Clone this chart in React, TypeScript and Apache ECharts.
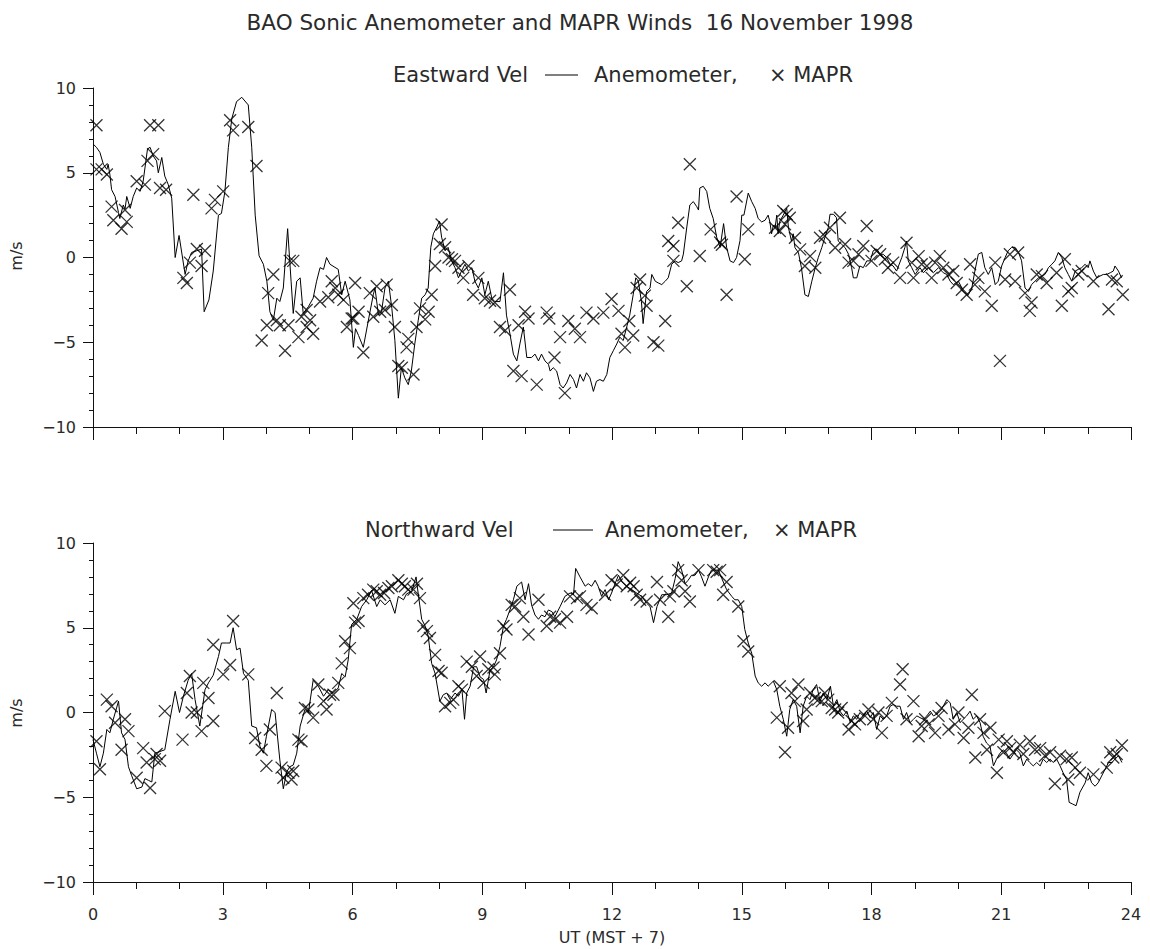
import React, { useEffect, useRef } from "react";
import * as echarts from "echarts";

// ---- Data (hours UT, m/s) ----
const eastLineHours = [
  0.0, 0.08, 0.16, 0.24, 0.32, 0.35, 0.39, 0.43, 0.51, 0.59, 0.62, 0.7, 0.74, 0.78, 0.86, 0.93, 1.01, 1.09, 1.16, 1.26,
  1.32, 1.39, 1.47, 1.51, 1.59, 1.66, 1.74, 1.82, 1.9, 1.99, 2.13, 2.2, 2.28, 2.4, 2.51, 2.57, 2.68, 2.78, 2.9, 2.97,
  3.05, 3.13, 3.21, 3.32, 3.44, 3.59, 3.67, 3.75, 3.84, 3.94, 4.02, 4.09, 4.17, 4.25, 4.32, 4.4, 4.5, 4.58, 4.63, 4.71,
  4.79, 4.86, 4.98, 5.09, 5.17, 5.25, 5.33, 5.4, 5.48, 5.67, 5.75, 5.83, 5.94, 6.02, 6.07, 6.14, 6.25, 6.36, 6.48, 6.52,
  6.6, 6.67, 6.75, 6.83, 6.91, 6.98, 7.06, 7.13, 7.21, 7.29, 7.36, 7.44, 7.52, 7.6, 7.68, 7.75, 7.81, 7.87, 7.95, 8.01,
  8.06, 8.14, 8.21, 8.29, 8.37, 8.45, 8.52, 8.6, 8.68, 8.76, 8.83, 8.91, 8.99, 9.06, 9.14, 9.22, 9.29, 9.41, 9.49, 9.56,
  9.64, 9.72, 9.8, 9.87, 9.95, 10.03, 10.14, 10.22, 10.3, 10.37, 10.45, 10.53, 10.57, 10.64, 10.72, 10.8, 10.87, 10.95, 11.03, 11.11,
  11.18, 11.26, 11.34, 11.41, 11.49, 11.57, 11.64, 11.72, 11.8, 11.88, 11.95, 12.03, 12.11, 12.18, 12.26, 12.34, 12.41, 12.49, 12.55, 12.61,
  12.68, 12.72, 12.8, 12.88, 12.92, 13.0, 13.07, 13.15, 13.23, 13.3, 13.38, 13.46, 13.53, 13.61, 13.65, 13.73, 13.8, 13.88, 13.96, 14.0,
  14.03, 14.11, 14.19, 14.26, 14.34, 14.42, 14.5, 14.58, 14.65, 14.73, 14.81, 14.88, 14.96, 15.0, 15.05, 15.15, 15.23, 15.31, 15.38, 15.46,
  15.54, 15.61, 15.65, 15.69, 15.73, 15.77, 15.81, 15.84, 15.88, 15.96, 16.04, 16.08, 16.15, 16.19, 16.23, 16.31, 16.38, 16.46, 16.54, 16.62,
  16.7, 16.77, 16.85, 16.92, 17.0, 17.04, 17.12, 17.19, 17.23, 17.31, 17.39, 17.47, 17.54, 17.58, 17.66, 17.73, 17.81, 17.89, 17.97, 18.04,
  18.12, 18.2, 18.27, 18.35, 18.43, 18.5, 18.58, 18.7, 18.77, 18.81, 18.85, 18.93, 19.01, 19.12, 19.2, 19.31, 19.43, 19.55, 19.66, 19.74,
  19.82, 19.89, 20.01, 20.09, 20.16, 20.24, 20.32, 20.39, 20.47, 20.55, 20.62, 20.7, 20.78, 20.86, 20.93, 21.01, 21.09, 21.16, 21.24, 21.32,
  21.4, 21.47, 21.55, 21.63, 21.7, 21.78, 21.86, 21.94, 22.01, 22.09, 22.17, 22.24, 22.32, 22.4, 22.47, 22.55, 22.63, 22.71, 22.78, 22.86,
  22.94, 23.01, 23.05, 23.13, 23.21, 23.28, 23.36, 23.44, 23.52, 23.59, 23.63, 23.71, 23.78,
];
const eastLineValues = [
  6.7, 6.5, 6.2, 5.5, 5.2, 5.5, 4.9, 4.0, 3.6, 2.65, 2.3, 3.1, 2.85, 3.6, 2.9, 3.6, 4.1, 3.9, 4.5, 6.4,
  6.5, 6.0, 5.7, 5.0, 5.9, 4.8, 4.3, 3.5, 0.0, 1.3, -1.0, -0.2, 0.3, 0.4, 0.5, -3.2, -2.5, -0.8, 2.5, 2.6,
  3.9, 6.5, 8.2, 9.2, 9.45, 9.0, 6.5, 2.5, 0.1, -0.4, -1.4, -3.2, -3.7, -2.4, -2.6, -1.8, 1.7, -1.4, -3.3, -1.4,
  -1.2, -3.3, -2.9, -2.4, -1.4, -0.6, -0.7, 0.0, -0.4, -0.7, -2.2, -1.4, -2.5, -5.3, -4.2, -4.6, -5.3, -3.8, -2.2, -1.8,
  -3.4, -3.2, -1.8, -1.4, -3.0, -4.9, -8.3, -6.5, -7.1, -7.5, -6.7, -5.1, -3.7, -2.4, -2.2, -1.8, 0.6, 1.4, 1.8, 2.15,
  1.2, 0.4, 0.6, -0.2, -0.6, -1.2, -0.8, -0.4, -0.8, -0.6, -1.4, -1.8, -1.2, -2.2, -1.4, -2.4, -2.6, -2.6, -0.9, -3.4,
  -4.5, -5.7, -6.1, -5.1, -4.1, -5.9, -5.9, -5.7, -6.1, -5.7, -6.1, -6.3, -6.7, -6.5, -6.7, -7.5, -7.7, -7.4, -6.9, -7.2,
  -7.7, -6.9, -7.3, -6.8, -7.1, -7.9, -7.3, -7.2, -7.3, -6.9, -5.9, -5.5, -5.1, -4.7, -4.9, -4.1, -3.4, -2.2, -1.2, -1.4,
  -2.6, -3.9, -2.0, -1.8, -1.0, -1.4, -1.5, -1.6, -1.4, -1.2, -0.4, -0.2, -0.3, -0.2, 0.2, 1.8, 3.1, 3.3, 3.0, 2.8,
  4.1, 4.2, 3.9, 2.9, 2.3, 1.2, 0.6, 2.0, 0.6, -0.2, -0.3, 0.0, 1.0, 2.5, 2.5, 3.8, 3.3, 2.9, 2.3, 2.1,
  2.2, 2.5, 2.1, 1.4, 1.9, 1.75, 2.5, 1.4, 2.15, 2.5, 2.9, 1.75, 0.97, 1.4, 0.58, 0.29, -0.6, -2.2, -2.3, -1.4,
  -0.6, 0.0, 0.58, 1.17, 1.76, 2.55, 2.55, 2.35, 0.97, 0.78, 0.58, 0.19, -0.6, -1.2, -1.2, -0.5, -0.6, -0.2, -0.2, 0.4,
  0.5, 0.19, 0.19, 0.0, -0.4, -0.5, -0.8, 0.0, 0.58, 0.97, -0.2, -0.6, -1.0, -0.6, -0.9, -0.6, -0.9, -0.6, -0.9, -1.0,
  -1.4, -1.6, -1.4, -1.8, -2.0, -2.2, -1.8, -0.8, 0.2, 0.3, -0.6, -1.0, -0.6, -1.6, -1.4, -0.5, 0.0, 0.4, 0.6, 0.6,
  0.3, -0.2, -1.8, -2.0, -1.6, -1.4, -1.2, -1.1, -1.0, -0.6, -0.4, -0.2, 0.3, 0.0, -0.6, -1.0, -1.4, -0.8, -0.7, -0.6,
  -0.4, -0.6, -0.2, -0.8, -1.2, -1.1, -1.0, -1.0, -0.9, -0.8, -0.5, -0.8, -1.2,
];

const eastMaprHours = [
  0.08, 0.08, 0.2, 0.32, 0.43, 0.47, 0.66, 0.74, 0.78, 1.01, 1.2, 1.26, 1.32, 1.39, 1.51, 1.55, 1.69, 2.09, 2.17, 2.24,
  2.32, 2.4, 2.51, 2.59, 2.74, 2.82, 3.01, 3.17, 3.24, 3.59, 3.78, 3.9, 4.02, 4.05, 4.17, 4.25, 4.32, 4.44, 4.52, 4.55,
  4.63, 4.75, 4.82, 4.94, 4.94, 5.02, 5.09, 5.25, 5.44, 5.52, 5.6, 5.67, 5.79, 5.87, 5.98, 6.02, 6.06, 6.14, 6.25, 6.4,
  6.48, 6.56, 6.64, 6.75, 6.79, 6.91, 6.98, 7.06, 7.14, 7.25, 7.29, 7.41, 7.48, 7.56, 7.68, 7.76, 7.83, 7.91, 8.02, 8.06,
  8.14, 8.22, 8.3, 8.37, 8.45, 8.56, 8.68, 8.79, 8.91, 9.06, 9.18, 9.29, 9.41, 9.53, 9.64, 9.72, 9.84, 9.91, 9.99, 10.07,
  10.26, 10.49, 10.55, 10.67, 10.8, 10.91, 10.99, 11.14, 11.26, 11.41, 11.57, 11.8, 11.99, 12.15, 12.22, 12.3, 12.4, 12.49, 12.57, 12.65,
  12.76, 12.8, 12.96, 13.07, 13.23, 13.3, 13.42, 13.42, 13.53, 13.73, 13.8, 14.03, 14.28, 14.5, 14.54, 14.65, 14.88, 15.07, 15.15, 15.77,
  15.88, 15.96, 16.0, 16.04, 16.11, 16.23, 16.35, 16.46, 16.58, 16.7, 16.81, 16.92, 17.04, 17.16, 17.27, 17.39, 17.47, 17.58, 17.7, 17.81,
  17.89, 18.0, 18.12, 18.2, 18.31, 18.38, 18.5, 18.66, 18.81, 18.93, 18.97, 19.09, 19.16, 19.28, 19.39, 19.47, 19.58, 19.66, 19.78, 19.89,
  19.97, 20.09, 20.2, 20.28, 20.39, 20.47, 20.62, 20.78, 20.86, 20.97, 21.09, 21.2, 21.32, 21.39, 21.55, 21.66, 21.7, 21.82, 21.94, 22.05,
  22.28, 22.4, 22.47, 22.55, 22.63, 22.78, 22.86, 23.13, 23.48, 23.56, 23.67, 23.81,
];
const eastMaprValues = [
  7.8, 5.2, 5.2, 4.9, 3.0, 2.2, 1.7, 2.8, 2.1, 4.5, 4.3, 5.7, 7.8, 6.1, 7.8, 4.1, 4.0, -1.2, -1.5, -0.3,
  3.7, 0.5, -0.5, 0.4, 2.9, 3.4, 3.9, 8.1, 7.5, 7.7, 5.4, -4.9, -4.0, -2.1, -1.0, -3.7, -4.0, -5.5, -4.0, -0.2,
  -0.2, -4.7, -3.5, -3.1, -4.1, -3.7, -4.5, -2.6, -2.35, -1.4, -1.8, -2.2, -2.5, -4.1, -3.6, -3.6, -1.5, -3.2, -5.6, -2.1,
  -3.5, -1.7, -3.2, -3.1, -1.6, -2.8, -4.1, -6.4, -6.5, -5.3, -4.8, -6.9, -4.1, -3.0, -3.65, -3.2, -2.2, -0.5, 0.8, 1.95,
  0.6, 0.0, -0.1, -0.2, -0.6, -1.2, -0.5, -2.2, -1.2, -2.4, -2.55, -2.65, -4.1, -4.3, -1.9, -6.7, -4.0, -7.0, -3.2, -3.6,
  -7.5, -3.25, -3.6, -5.9, -4.7, -8.0, -3.75, -4.2, -4.7, -3.25, -3.6, -3.25, -2.45, -3.15, -4.5, -5.3, -3.75, -4.6, -1.8, -1.3,
  -2.25, -2.85, -5.0, -5.2, -3.75, 0.97, 0.68, -0.2, 2.05, -1.7, 5.5, 0.09, 1.66, 0.88, 0.75, -2.2, 3.6, -0.1, 1.66, 1.76,
  1.56, 2.74, 1.96, 2.55, 2.35, 1.17, 0.48, -0.5, 0.08, -0.6, 1.17, 1.27, 1.76, 0.58, 2.35, 0.78, -0.3, -0.2, 0.19, 0.68,
  1.86, -0.2, 0.38, 0.19, -0.1, -0.6, -0.3, -1.2, 0.87, -0.3, -1.2, 0.08, -0.4, -0.5, -1.2, -0.3, 0.08, -0.6, -1.0, -0.8,
  -1.5, -1.9, -2.2, -0.4, -1.6, -1.2, -2.0, -2.85, -0.3, -6.1, -1.3, 0.19, -1.4, 0.29, -2.1, -3.15, -2.65, -1.0, -1.1, -1.5,
  -0.9, -2.85, -0.1, -2.0, -1.8, -1.0, -0.8, -1.4, -3.05, -1.3, -1.4, -2.2,
];

const northLineHours = [
  0.0, 0.08, 0.16, 0.24, 0.32, 0.39, 0.47, 0.59, 0.66, 0.74, 0.82, 0.89, 1.01, 1.13, 1.2, 1.28, 1.36, 1.43, 1.55, 1.66,
  1.78, 1.9, 2.0, 2.09, 2.2, 2.28, 2.36, 2.47, 2.59, 2.67, 2.78, 2.9, 2.97, 3.09, 3.17, 3.24, 3.32, 3.4, 3.48, 3.59,
  3.67, 3.78, 3.86, 3.94, 4.01, 4.13, 4.21, 4.32, 4.4, 4.48, 4.55, 4.63, 4.71, 4.79, 4.9, 4.98, 5.09, 5.21, 5.33, 5.44,
  5.56, 5.67, 5.75, 5.83, 5.9, 5.98, 6.1, 6.21, 6.33, 6.44, 6.56, 6.64, 6.75, 6.87, 6.98, 7.06, 7.18, 7.25, 7.37, 7.47,
  7.52, 7.6, 7.68, 7.75, 7.83, 7.91, 8.02, 8.1, 8.18, 8.26, 8.37, 8.45, 8.53, 8.59, 8.64, 8.72, 8.8, 8.87, 8.95, 9.03,
  9.09, 9.18, 9.26, 9.33, 9.41, 9.49, 9.56, 9.64, 9.72, 9.8, 9.91, 9.99, 10.07, 10.14, 10.22, 10.3, 10.37, 10.45, 10.53, 10.61,
  10.68, 10.8, 10.91, 11.03, 11.11, 11.16, 11.26, 11.38, 11.45, 11.53, 11.61, 11.68, 11.76, 11.84, 11.92, 11.99, 12.07, 12.15, 12.23, 12.34,
  12.45, 12.57, 12.69, 12.8, 12.88, 12.96, 13.04, 13.15, 13.27, 13.38, 13.46, 13.53, 13.61, 13.69, 13.76, 13.84, 13.92, 14.0, 14.07, 14.15,
  14.23, 14.3, 14.38, 14.46, 14.54, 14.65, 14.77, 14.84, 14.92, 15.0, 15.07, 15.15, 15.23, 15.31, 15.38, 15.46, 15.54, 15.61, 15.73, 15.81,
  15.88, 15.96, 16.04, 16.11, 16.19, 16.27, 16.35, 16.42, 16.5, 16.58, 16.65, 16.73, 16.81, 16.89, 16.97, 17.05, 17.12, 17.2, 17.27, 17.35,
  17.43, 17.51, 17.58, 17.66, 17.73, 17.81, 17.89, 17.97, 18.04, 18.12, 18.2, 18.27, 18.35, 18.43, 18.5, 18.58, 18.66, 18.74, 18.81, 18.89,
  18.97, 19.05, 19.12, 19.2, 19.28, 19.36, 19.43, 19.51, 19.59, 19.66, 19.74, 19.82, 19.89, 19.97, 20.05, 20.12, 20.2, 20.28, 20.35, 20.43,
  20.51, 20.58, 20.66, 20.74, 20.82, 20.89, 20.97, 21.05, 21.12, 21.2, 21.28, 21.35, 21.43, 21.51, 21.59, 21.66, 21.74, 21.82, 21.9, 21.97,
  22.05, 22.13, 22.2, 22.28, 22.36, 22.43, 22.51, 22.57, 22.65, 22.73, 22.82, 22.94, 23.01, 23.09, 23.17, 23.24, 23.32, 23.4, 23.48, 23.56,
  23.63, 23.71, 23.79,
];
const northLineValues = [
  -1.6, -2.4, -3.2, -2.4, -1.0, -1.2, -0.4, 0.67, -1.2, -1.6, -3.2, -3.7, -4.5, -4.4, -3.9, -4.0, -4.1, -2.4, -2.3, -2.2,
  -0.4, 1.25, 0.0, 0.96, 1.9, 2.3, 0.76, -0.8, 1.35, 1.75, 2.2, 3.3, 4.1, 4.1, 4.1, 5.0, 3.7, 3.8, 2.3, 1.9,
  -0.8, -0.9, -2.0, -2.4, -1.4, 0.18, 0.0, -2.8, -4.5, -3.5, -3.2, -3.1, -2.4, -0.8, 0.18, 0.0, 1.9, 1.55, 0.96, 1.35,
  1.15, 1.45, 2.3, 2.1, 3.1, 5.2, 5.5, 6.25, 6.65, 7.2, 6.25, 6.65, 6.35, 6.65, 5.85, 6.85, 6.65, 7.0, 7.15, 8.0,
  7.0, 5.5, 5.1, 4.5, 2.9, 2.3, 0.67, 1.05, 1.15, 0.76, 1.15, 0.96, 1.35, -0.4, 1.15, 1.55, 2.7, 2.7, 2.1, 1.95,
  1.15, 2.5, 2.7, 3.1, 3.9, 5.1, 5.5, 6.05, 6.65, 7.45, 7.7, 6.65, 7.6, 6.35, 5.75, 5.5, 5.75, 5.65, 6.05, 5.95,
  5.65, 6.25, 6.85, 7.05, 6.95, 8.5, 8.0, 7.45, 7.6, 7.45, 7.8, 7.45, 6.85, 7.25, 6.65, 7.05, 7.6, 8.1, 7.7, 7.45,
  7.25, 7.05, 6.85, 6.45, 6.25, 5.3, 6.25, 6.95, 6.95, 7.05, 7.9, 8.9, 8.4, 7.6, 7.8, 8.1, 8.1, 8.4, 8.0, 7.45,
  8.0, 8.4, 8.4, 8.4, 7.9, 7.25, 6.85, 6.65, 6.65, 6.25, 4.9, 4.1, 3.5, 2.15, 1.75, 1.55, 1.75, 1.55, 1.85, 1.35,
  0.37, -0.4, -1.4, 0.18, 0.76, 0.37, -1.2, 0.37, 0.96, 0.76, 1.35, 1.65, 0.67, 1.15, 0.76, 1.55, 0.37, 0.76, 0.08, -0.2,
  0.08, -0.6, -0.2, -0.4, 0.0, -0.2, 0.08, -0.3, 0.0, -1.0, -0.2, -0.4, -0.2, 0.37, 0.47, 0.37, 0.37, -0.4, 0.0, -0.6,
  -0.4, -0.2, -0.3, -0.4, -0.2, 0.08, -0.2, -0.1, 0.08, 0.37, 0.76, 0.57, -0.4, 0.0, -0.6, -0.4, -0.2, 0.08, -0.4, -0.2,
  -0.6, -1.4, -1.8, -2.0, -3.15, -2.75, -2.4, -2.2, -2.4, -2.75, -2.45, -2.2, -2.4, -3.15, -2.75, -2.95, -3.15, -2.95, -3.15, -2.75,
  -2.95, -2.75, -2.95, -2.75, -3.15, -3.55, -3.95, -5.3, -5.4, -5.5, -4.7, -4.15, -3.55, -4.15, -4.35, -4.15, -3.75, -3.35, -2.95, -2.95,
  -2.75, -2.55, -2.95,
];

const northMaprHours = [
  0.08, 0.16, 0.32, 0.43, 0.51, 0.66, 0.74, 0.82, 1.01, 1.16, 1.24, 1.32, 1.43, 1.47, 1.55, 1.66, 2.07, 2.17, 2.24, 2.28,
  2.4, 2.51, 2.55, 2.67, 2.78, 2.78, 3.01, 3.17, 3.24, 3.59, 3.75, 3.9, 4.01, 4.09, 4.25, 4.36, 4.4, 4.52, 4.59, 4.63,
  4.75, 4.82, 4.9, 4.98, 5.09, 5.21, 5.33, 5.4, 5.48, 5.56, 5.67, 5.75, 5.83, 5.94, 6.02, 6.06, 6.14, 6.25, 6.36, 6.48,
  6.56, 6.64, 6.73, 6.83, 6.91, 7.06, 7.14, 7.21, 7.29, 7.41, 7.49, 7.56, 7.64, 7.72, 7.79, 7.91, 7.99, 8.06, 8.14, 8.26,
  8.33, 8.45, 8.53, 8.64, 8.76, 8.87, 8.95, 9.03, 9.14, 9.26, 9.29, 9.41, 9.49, 9.56, 9.68, 9.76, 9.87, 9.95, 10.07, 10.3,
  10.49, 10.57, 10.68, 10.8, 10.96, 11.03, 11.19, 11.26, 11.41, 11.53, 11.84, 11.99, 12.11, 12.26, 12.34, 12.42, 12.5, 12.57, 12.65, 12.8,
  13.04, 13.11, 13.3, 13.34, 13.42, 13.53, 13.61, 13.69, 13.8, 14.0, 14.34, 14.42, 14.5, 14.57, 14.65, 14.92, 15.04, 15.15, 15.81, 15.88,
  16.0, 16.07, 16.15, 16.23, 16.31, 16.42, 16.5, 16.58, 16.69, 16.77, 16.85, 16.92, 17.0, 17.08, 17.16, 17.23, 17.31, 17.47, 17.54, 17.62,
  17.73, 17.85, 17.93, 18.04, 18.16, 18.24, 18.35, 18.47, 18.66, 18.72, 18.81, 18.97, 19.09, 19.16, 19.24, 19.32, 19.47, 19.55, 19.62, 19.78,
  19.93, 20.01, 20.13, 20.24, 20.32, 20.4, 20.51, 20.59, 20.67, 20.75, 20.9, 20.94, 21.05, 21.13, 21.2, 21.28, 21.43, 21.51, 21.66, 21.78,
  21.9, 22.01, 22.13, 22.24, 22.36, 22.51, 22.55, 22.63, 22.71, 22.82, 23.13, 23.44, 23.52, 23.59, 23.67, 23.79,
];
const northMaprValues = [
  -1.7, -3.35, 0.76, 0.37, -0.6, -2.2, -0.4, -1.1, -3.85, -2.1, -2.95, -4.45, -2.75, -2.45, -2.85, 0.08, -1.6, 1.15, 2.15, 0.0,
  0.0, -1.1, 1.75, 0.86, -0.5, 4.0, 2.25, 2.8, 5.4, 2.25, -1.5, -2.2, -3.15, -1.0, 1.15, -3.25, -3.85, -3.55, -3.95, -3.45,
  -1.6, -1.7, 0.27, 0.18, -0.3, 1.65, 0.67, 0.18, 1.05, 1.05, 1.75, 2.9, 4.2, 3.8, 6.45, 5.3, 5.4, 6.75, 6.95, 7.25,
  7.15, 6.95, 7.05, 7.35, 7.45, 7.8, 7.6, 7.45, 7.25, 7.25, 7.6, 6.75, 5.1, 4.8, 4.4, 3.4, 2.45, 2.35, 0.37, 0.57,
  0.76, 1.55, 1.35, 3.0, 2.7, 2.15, 3.3, 1.75, 2.55, 2.65, 2.25, 3.5, 5.1, 4.9, 6.35, 6.25, 6.75, 5.65, 4.6, 6.65,
  5.1, 5.65, 5.5, 5.3, 5.65, 6.85, 6.75, 6.85, 6.35, 6.15, 6.95, 7.8, 7.55, 8.1, 7.45, 7.65, 7.45, 6.95, 6.65, 6.55,
  7.7, 6.65, 5.65, 6.85, 7.15, 8.4, 7.8, 7.15, 6.55, 8.4, 8.4, 8.3, 8.4, 6.95, 7.7, 6.25, 4.2, 3.6, -0.3, 1.55,
  -2.35, -0.9, 1.15, 0.67, 1.65, -0.5, 0.18, 1.15, 0.86, 0.76, 0.67, 1.15, 0.76, 0.27, 0.18, 0.0, 0.27, -1.0, -0.5, -0.7,
  -0.4, -0.2, 0.18, -0.4, 0.0, -1.2, -0.2, 0.57, 1.65, 2.55, -0.4, 0.67, -1.4, -0.8, -0.4, -0.7, -1.2, -0.2, 0.27, -1.0,
  -0.7, 0.0, -1.5, -0.9, 1.05, -2.65, -0.4, -1.2, -2.2, -0.9, -3.55, -1.6, -2.35, -1.7, -2.1, -2.35, -1.9, -2.45, -1.7, -2.2,
  -2.1, -2.55, -2.35, -4.2, -2.55, -2.75, -3.95, -2.65, -3.25, -3.55, -3.65, -3.25, -2.35, -2.65, -2.45, -1.95,
];

const hourTicks = [0, 3, 6, 9, 12, 15, 18, 21, 24];
const speedTicks = [-10, -5, 0, 5, 10];

const titleText = "BAO Sonic Anemometer and MAPR Winds  16 November 1998";
const xAxisTitle = "UT (MST + 7)";
const yAxisTitle = "m/s";

const zip = (a: number[], b: number[]) => a.map((t, i) => [t, b[i]]);

const FONT = "DejaVu Sans";
const TEXT_COLOR = "#2a2a2a";
const AXIS_COLOR = "#111";
const X_SYMBOL = "path://M0,0L10,10M10,0L0,10";

const GRID_LEFT = 93;
const GRID_WIDTH = 1038;
const GRID_H = 339;
const TOP1 = 88;
const TOP2 = 543;

function makeXAxis(gridIndex: number, showLabels: boolean) {
  return {
    type: "value",
    gridIndex,
    min: hourTicks[0],
    max: hourTicks[hourTicks.length - 1],
    interval: 3,
    axisLine: { show: true, onZero: false, lineStyle: { color: AXIS_COLOR, width: 1 } },
    axisTick: { show: true, inside: false, length: 13, lineStyle: { color: AXIS_COLOR, width: 1 } },
    minorTick: { show: true, splitNumber: 3, length: 7, lineStyle: { color: AXIS_COLOR, width: 1 } },
    splitLine: { show: false },
    axisLabel: {
      show: showLabels,
      margin: 24,
      fontFamily: FONT,
      fontSize: 16,
      color: TEXT_COLOR,
    },
    name: showLabels ? xAxisTitle : "",
    nameLocation: "middle",
    nameGap: 47,
    nameTextStyle: { fontFamily: FONT, fontSize: 16, color: TEXT_COLOR },
  };
}

function makeYAxis(gridIndex: number) {
  return {
    type: "value",
    gridIndex,
    min: speedTicks[0],
    max: speedTicks[speedTicks.length - 1],
    interval: 5,
    axisLine: { show: true, onZero: false, lineStyle: { color: AXIS_COLOR, width: 1 } },
    axisTick: { show: true, inside: false, length: 10, lineStyle: { color: AXIS_COLOR, width: 1 } },
    minorTick: { show: true, splitNumber: 5, length: 4, lineStyle: { color: AXIS_COLOR, width: 1 } },
    splitLine: { show: false },
    axisLabel: {
      margin: 17,
      fontFamily: FONT,
      fontSize: 16,
      color: TEXT_COLOR,
      formatter: (v: number) => (v < 0 ? "\u2212" + Math.abs(v) : String(v)),
    },
  };
}

function subtitle(y: number, label: string, labelX: number, lineX1: number, lineX2: number, anemoX: number, maprRight: number) {
  const st = { fontFamily: FONT, fontSize: 21, fill: TEXT_COLOR, verticalAlign: "middle" };
  return [
    { type: "text", x: labelX, y, style: { ...st, text: label, align: "left" } },
    { type: "line", shape: { x1: lineX1, y1: y, x2: lineX2, y2: y }, style: { stroke: "#000", lineWidth: 1 } },
    { type: "text", x: anemoX, y, style: { ...st, text: "Anemometer,", align: "left" } },
    { type: "text", x: maprRight, y, style: { ...st, text: "\u00d7 MAPR", align: "right" } },
  ];
}

export default function App() {
  const ref = useRef<HTMLDivElement>(null);

  useEffect(() => {
    if (!ref.current) return;
    const chart = echarts.init(ref.current, undefined, { renderer: "svg" });
    const lineSeries = (xi: number, data: number[][]) => ({
      type: "line",
      xAxisIndex: xi,
      yAxisIndex: xi,
      data,
      showSymbol: false,
      symbol: "none",
      lineStyle: { color: "#000", width: 1 },
      silent: true,
      z: 2,
    });
    const maprSeries = (xi: number, data: number[][]) => ({
      type: "scatter",
      xAxisIndex: xi,
      yAxisIndex: xi,
      data,
      symbol: X_SYMBOL,
      symbolSize: 12,
      itemStyle: { color: "rgba(0,0,0,0)", borderColor: "#000", borderWidth: 1.3 },
      silent: true,
      z: 3,
    });

    chart.setOption({
      animation: false,
      backgroundColor: "#fff",
      grid: [
        { left: GRID_LEFT, top: TOP1, width: GRID_WIDTH, height: GRID_H },
        { left: GRID_LEFT, top: TOP2, width: GRID_WIDTH, height: GRID_H },
      ],
      xAxis: [makeXAxis(0, false), makeXAxis(1, true)],
      yAxis: [makeYAxis(0), makeYAxis(1)],
      series: [
        lineSeries(0, zip(eastLineHours, eastLineValues)),
        maprSeries(0, zip(eastMaprHours, eastMaprValues)),
        lineSeries(1, zip(northLineHours, northLineValues)),
        maprSeries(1, zip(northMaprHours, northMaprValues)),
      ],
      graphic: [
        {
          type: "text",
          x: 580,
          y: 22,
          style: { text: titleText, fontFamily: FONT, fontSize: 21.5, fill: TEXT_COLOR, align: "center", verticalAlign: "middle" },
        },
        ...subtitle(75, "Eastward Vel", 393, 545, 578, 594, 853),
        ...subtitle(530, "Northward Vel", 365, 553, 593, 605, 857),
        {
          type: "text",
          x: 16,
          y: 256,
          rotation: Math.PI / 2,
          style: { text: yAxisTitle, fontFamily: FONT, fontSize: 16, fill: TEXT_COLOR, align: "center", verticalAlign: "middle" },
        },
        {
          type: "text",
          x: 16,
          y: 713,
          rotation: Math.PI / 2,
          style: { text: yAxisTitle, fontFamily: FONT, fontSize: 16, fill: TEXT_COLOR, align: "center", verticalAlign: "middle" },
        },
      ],
    });
    return () => chart.dispose();
  }, []);

  return (
    <div
      ref={ref}
      style={{ position: "fixed", left: 0, top: 0, width: 1150, height: 949, background: "#fff" }}
    />
  );
}
